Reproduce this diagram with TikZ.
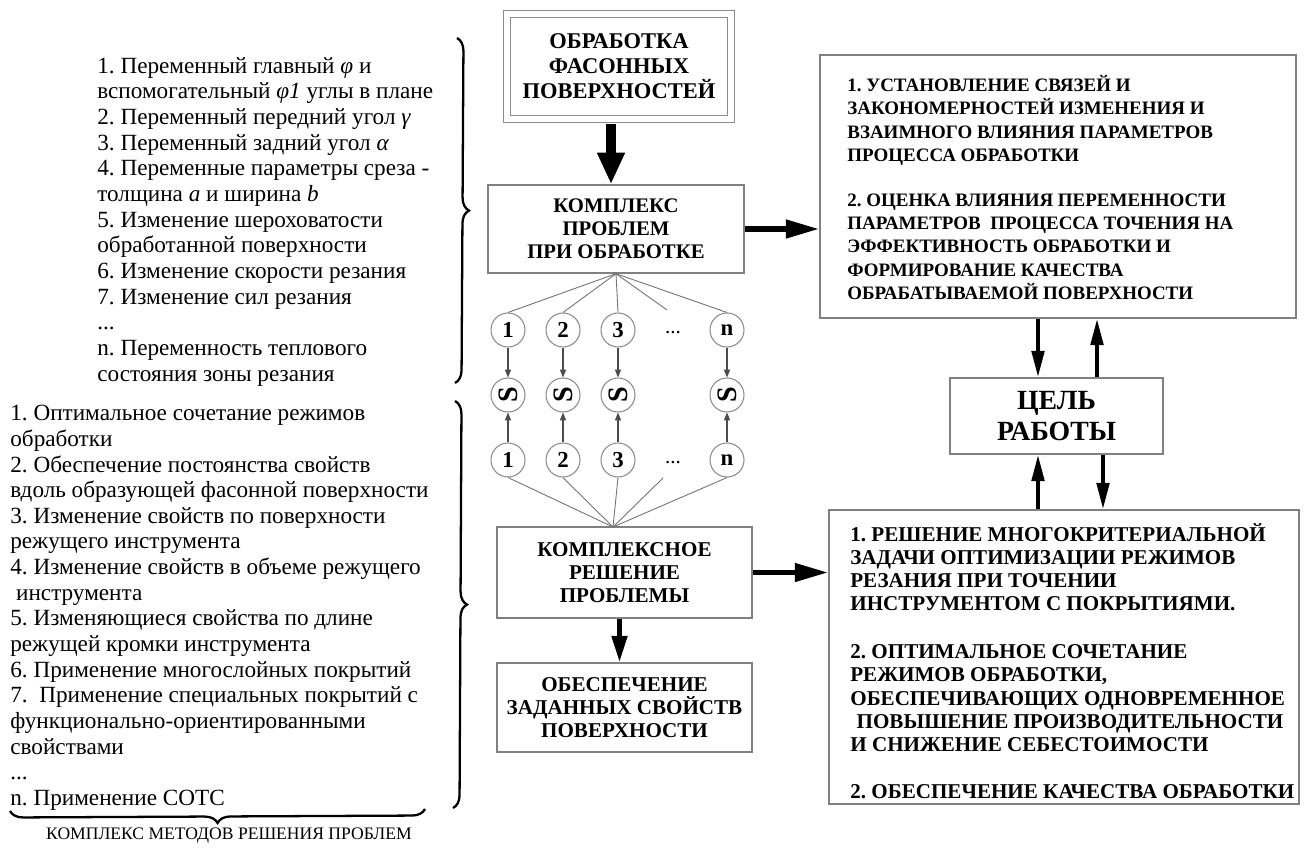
\documentclass[tikz,border=0pt]{standalone}
\usepackage{fontspec}
\setmainfont{Liberation Serif}[BoldFont={Liberation Serif Bold},ItalicFont={Liberation Serif Italic},BoldItalicFont={Liberation Serif Bold Italic}]
\usepackage{graphicx}
\usetikzlibrary{arrows.meta,decorations.pathreplacing}
\newcommand\pxu{0.02cm}
\frenchspacing
\begin{document}
\begin{tikzpicture}[x=0.02cm,y=-0.02cm,
  boxc/.style={draw=black!50, line width=0.8pt, inner sep=0pt, align=center,
    font=\fontsize{12}{13.3}\selectfont\bfseries},
  boxr/.style={draw=black!50, line width=0.8pt, inner sep=0pt},
  lefttext/.style={align=left, inner sep=0pt, font=\fontsize{13.2}{14.6}\selectfont},
  circ/.style={circle, draw=black!45, line width=0.6pt, minimum size=34*\pxu, inner sep=0pt,
    font=\fontsize{13}{13}\selectfont\bfseries},
  fan/.style={draw=black!55, line width=0.5pt},
  sarr/.style={draw=black!70, line width=0.6pt, -{Triangle[length=4.5pt,width=3.5pt]}},
  bigarr/.style={line width=5.7pt, -{Triangle[length=18pt,width=14.7pt]}},
  harr/.style={line width=3.2pt, -{Triangle[length=19pt,width=10pt]}},
  darr/.style={line width=2.8pt, -{Triangle[length=15pt,width=8.5pt]}},
  varr/.style={line width=2.3pt, -{Triangle[length=15pt,width=7pt]}},
  bracest/.style={line width=1.3pt, decorate, decoration={brace, amplitude=0.26cm}}
]
\fill[white] (0,0) rectangle (1307,851);
\useasboundingbox (0,0) rectangle (1307,851);

% ---------- left texts ----------
\node[lefttext, anchor=north west] (ltop) at (97,57) {%
1. Переменный главный \textit{φ} и\\
вспомогательный \textit{φ1} углы в плане\\
2. Переменный передний угол \textit{γ}\\
3. Переменный задний угол \textit{α}\\
4. Переменные параметры среза -\\
толщина \textit{a} и ширина \textit{b}\\
5. Изменение шероховатости\\
обработанной поверхности\\
6. Изменение скорости резания\\
7. Изменение сил резания\\
...\\
n. Переменность теплового\\
состояния зоны резания};

\node[lefttext, anchor=north west] (lbot) at (10,405) {%
1. Оптимальное сочетание режимов\\
обработки\\
2. Обеспечение постоянства свойств\\
вдоль образующей фасонной поверхности\\
3. Изменение свойств по поверхности\\
режущего инструмента\\
4. Изменение свойств в объеме режущего\\
\hspace*{0.25em}инструмента\\
5. Изменяющиеся свойства по длине\\
режущей кромки инструмента\\
6. Применение многослойных покрытий\\
7.\ \ Применение специальных покрытий с\\
функционально-ориентированными\\
свойствами\\
...\\
n. Применение СОТС};

\node[inner sep=0pt, font=\fontsize{10}{12}\selectfont] (capt) at (229,836) {КОМПЛЕКС МЕТОДОВ РЕШЕНИЯ ПРОБЛЕМ};

% braces
\draw[bracest] (457,38) -- (455,383);
\draw[bracest] (455,401) -- (453,808);
\draw[bracest] (425,809) -- (10,811);

% ---------- center column ----------
\node[boxc, draw=black!45, line width=0.6pt, double, double distance=6*\pxu,
  minimum width=224*\pxu, minimum height=105*\pxu,
  font=\fontsize{12.8}{14.2}\selectfont\bfseries] (obr) at (619,66.5)
  {ОБРАБОТКА\\ФАСОННЫХ\\ПОВЕРХНОСТЕЙ};

\node[boxc, minimum width=256*\pxu, minimum height=88*\pxu,
  font=\fontsize{11.8}{13.2}\selectfont\bfseries] (kp) at (616,229)
  {КОМПЛЕКС\\ПРОБЛЕМ\\ПРИ ОБРАБОТКЕ};

\node[boxc, minimum width=255*\pxu, minimum height=91*\pxu] (kr) at (624.5,572.5)
  {КОМПЛЕКСНОЕ\\РЕШЕНИЕ\\ПРОБЛЕМЫ};

\node[boxc, minimum width=255*\pxu, minimum height=89*\pxu] (ob) at (624.5,707.5)
  {ОБЕСПЕЧЕНИЕ\\ЗАДАННЫХ СВОЙСТВ\\ПОВЕРХНОСТИ};

% circles
\foreach \i/\xx in {1/508,2/563,3/618,n/727}{
  \node[circ] (a\i) at (\xx,330) {\i};
  \node[circ] (t\i) at (\xx,395) {\fontsize{16}{16}\selectfont\rotatebox{90}{S}};
  \node[circ] (b\i) at (\xx,460) {\i};
}
\node[inner sep=0pt, font=\fontsize{12}{12}\selectfont] (da) at (673,333) {...};
\node[inner sep=0pt, font=\fontsize{12}{12}\selectfont] (db) at (673,463) {...};

\coordinate (fa) at (667,310);
\coordinate (fb) at (663,478);
\coordinate (apex) at (613,527);

\foreach \i in {1,2,3,n}{
  \draw[fan] (kp.south) -- (a\i.north);
  \draw[fan] (b\i.south) -- (apex);
  \draw[sarr] (a\i.south) -- (t\i.north);
  \draw[sarr] (b\i.north) -- (t\i.south);
}
\draw[fan] (kp.south) -- (fa);
\draw[fan] (fb) -- (apex);

% ---------- right column ----------
\node[boxr, minimum width=476*\pxu, minimum height=263*\pxu] (tr) at (1058,186.5) {};
\node[anchor=west, inner sep=0pt, align=left,
  font=\fontsize{10.8}{13.3}\selectfont\bfseries] (trt) at (847,187.5)
  {1. УСТАНОВЛЕНИЕ СВЯЗЕЙ И\\
   ЗАКОНОМЕРНОСТЕЙ ИЗМЕНЕНИЯ И\\
   ВЗАИМНОГО ВЛИЯНИЯ ПАРАМЕТРОВ\\
   ПРОЦЕССА ОБРАБОТКИ\\[12pt]
   2. ОЦЕНКА ВЛИЯНИЯ ПЕРЕМЕННОСТИ\\
   ПАРАМЕТРОВ\ \ ПРОЦЕССА ТОЧЕНИЯ НА\\
   ЭФФЕКТИВНОСТЬ ОБРАБОТКИ И\\
   ФОРМИРОВАНИЕ КАЧЕСТВА\\
   ОБРАБАТЫВАЕМОЙ ПОВЕРХНОСТИ};

\node[boxc, minimum width=213*\pxu, minimum height=76*\pxu,
  font=\fontsize{15.8}{17.6}\selectfont\bfseries] (goal) at (1056.5,416)
  {ЦЕЛЬ\\РАБОТЫ};

\node[boxr, minimum width=470*\pxu, minimum height=294*\pxu] (br) at (1064,657) {};
\node[anchor=west, inner sep=0pt, align=left,
  font=\fontsize{12}{13.2}\selectfont\bfseries] (brt) at (850,661)
  {1. РЕШЕНИЕ МНОГОКРИТЕРИАЛЬНОЙ\\
   ЗАДАЧИ ОПТИМИЗАЦИИ РЕЖИМОВ\\
   РЕЗАНИЯ ПРИ ТОЧЕНИИ\\
   ИНСТРУМЕНТОМ С ПОКРЫТИЯМИ.\\[14pt]
   2. ОПТИМАЛЬНОЕ СОЧЕТАНИЕ\\
   РЕЖИМОВ ОБРАБОТКИ,\\
   ОБЕСПЕЧИВАЮЩИХ ОДНОВРЕМЕННОЕ\\
   \hspace*{0.3em}ПОВЫШЕНИЕ ПРОИЗВОДИТЕЛЬНОСТИ\\
   И СНИЖЕНИЕ СЕБЕСТОИМОСТИ\\[13.5pt]
   2. ОБЕСПЕЧЕНИЕ КАЧЕСТВА ОБРАБОТКИ};

% ---------- thick arrows ----------
\draw[bigarr, shorten <=0.08cm] ([xshift=-8*\pxu]obr.south) -- ([xshift=-5*\pxu]kp.north);
\draw[harr] (kp.east) -- (kp.east -| tr.west);
\draw[harr] (kr.east) -- (kr.east -| br.west);
\draw[darr] ([xshift=-5*\pxu]kr.south) -- ([xshift=-5*\pxu]ob.north);

\coordinate (xa) at (1038,0);
\coordinate (xb) at (1097,0);
\coordinate (xc) at (1103,0);
\draw[varr] (tr.south -| xa) -- (goal.north -| xa);
\draw[varr] (goal.north -| xb) -- (tr.south -| xb);
\draw[varr] (br.north -| xa) -- (goal.south -| xa);
\draw[varr] (goal.south -| xc) -- (br.north -| xc);
\end{tikzpicture}
\end{document}
